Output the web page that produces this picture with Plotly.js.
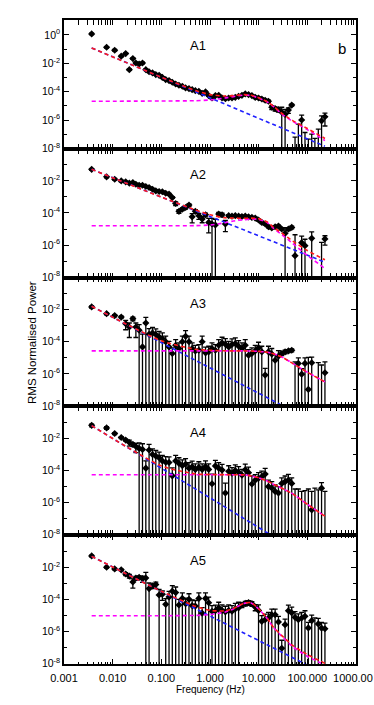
<!DOCTYPE html>
<html>
<head>
<meta charset="utf-8">
<script src="https://cdn.plot.ly/plotly-3.0.1.min.js"></script>
<style>
  html, body { margin: 0; padding: 0; background: #fff; }
  #chart { width: 374px; height: 705px; }
</style>
</head>
<body>
<div id="chart"></div>
<script>
// Frequencies of the binned power spectra (Hz), shared by the five panels
const freqHz = [0.0037, 0.0075, 0.011, 0.015, 0.0185, 0.022, 0.026, 0.030, 0.035, 0.041,
  0.048, 0.056, 0.066, 0.077, 0.090, 0.105, 0.123, 0.144, 0.168, 0.197,
  0.23, 0.27, 0.315, 0.37, 0.43, 0.50, 0.59, 0.69, 0.81, 0.94,
  1.10, 1.29, 1.51, 1.77, 2.07, 2.42, 2.83, 3.31, 3.87, 4.53,
  5.30, 6.20, 7.26, 8.50, 9.94, 11.6, 13.6, 15.9, 18.6, 21.8,
  25.5, 29.8, 34.9, 40.8, 47.8, 55.9, 65.4, 76.5, 89.5, 105,
  123, 143, 168, 196, 230];

// log10 of the RMS normalised power in each panel (-9 = below the axis)
const a1LogPow = [0.07, -0.87, -1.08, -1.5, -1.32, -2.45, -1.67, -1.98, -2.05, -1.98,
  -2.45, -2.6, -2.68, -2.8, -2.85, -3.0, -3.15, -3.22, -3.34, -3.46,
  -3.55, -3.62, -3.74, -3.79, -3.86, -3.93, -3.98, -4.12, -4.02, -4.28,
  -4.45, -4.28, -4.26, -4.45, -4.5, -4.45, -4.45, -4.4, -4.33, -4.26,
  -4.16, -4.21, -4.28, -4.4, -4.45, -4.52, -4.61, -4.68, -5.1, -5.2,
  -5.27, -5.45, -5.6, -5.3, -4.95, -9, -9, -6.0, -9, -9,
  -9, -9, -9, -6.06, -5.77];
const a2LogPow = [-1.28, -1.75, -1.9, -2.0, -2.06, -2.14, -2.1, -2.21, -2.27, -2.27,
  -2.35, -2.41, -2.52, -2.62, -2.66, -2.68, -2.77, -2.83, -3.04, -3.41,
  -3.9, -3.76, -3.66, -3.51, -4.24, -3.9, -4.17, -4.38, -4.11, -4.59,
  -4.69, -4.75, -4.07, -4.11, -4.69, -4.17, -4.2, -4.17, -4.2, -4.22,
  -4.2, -4.24, -4.28, -4.32, -4.44, -4.59, -4.69, -4.86, -4.94, -4.86,
  -4.82, -5.0, -5.27, -5.0, -4.9, -6.66, -9, -5.85, -6.04, -9,
  -5.58, -9, -9, -9, -5.62];
const a3LogPow = [-1.83, -2.25, -2.37, -2.46, -2.87, -3.08, -2.56, -3.08, -3.28, -4.32,
  -2.83, -3.53, -3.45, -3.55, -3.7, -3.8, -4.0, -4.32, -4.73, -4.22,
  -4.42, -4.0, -3.66, -4.0, -4.42, -4.57, -4.53, -4.0, -4.69, -4.63,
  -4.42, -4.53, -4.22, -4.07, -4.15, -4.32, -4.17, -4.11, -4.28, -4.42,
  -4.22, -4.84, -4.73, -4.57, -4.38, -4.63, -6.08, -4.63, -4.77, -5.15,
  -4.9, -4.73, -4.63, -4.57, -4.53, -9, -5.35, -6.02, -5.35, -6.97,
  -5.31, -9, -9, -9, -5.93];
const a4LogPow = [-1.18, -1.34, -1.69, -1.94, -2.1, -2.25, -2.37, -2.5, -2.62, -2.68,
  -3.85, -2.72, -3.0, -3.1, -3.2, -3.4, -3.48, -3.5, -4.33, -3.4,
  -3.55, -3.69, -3.6, -3.85, -3.76, -3.93, -3.8, -3.93, -3.75, -3.93,
  -4.82, -3.71, -3.85, -3.97, -5.4, -4.05, -4.17, -4.0, -4.1, -4.28,
  -3.95, -4.13, -4.84, -4.6, -4.48, -4.38, -4.22, -5.0, -5.09, -5.3,
  -5.4, -4.8, -4.69, -4.59, -4.8, -9, -9, -9, -9, -9,
  -6.45, -9, -9, -5.1, -9];
const a5LogPow = [-1.29, -2.0, -2.1, -2.16, -2.42, -2.55, -2.92, -2.67, -2.63, -2.71,
  -2.67, -3.33, -3.16, -3.08, -3.73, -3.68, -4.31, -3.85, -3.49, -3.58,
  -4.35, -3.94, -4.27, -4.0, -4.39, -4.42, -3.94, -4.86, -3.94, -4.21,
  -4.74, -4.71, -4.53, -4.69, -4.78, -4.69, -4.74, -4.6, -4.53, -4.35,
  -4.25, -4.2, -4.27, -4.48, -4.69, -5.37, -5.27, -5.16, -4.96, -4.96,
  -5.41, -7.05, -5.58, -4.71, -4.84, -5.12, -5.26, -5.16, -5.06, -5.78,
  -5.33, -9, -5.53, -5.79, -5.83];

// Height of the upper error cap above each point, in decades
const a1ErrDex = [0.05, 0.05, 0.05, 0.05, 0.05, 0.05, 0.05, 0.05, 0.05, 0.05,
  0.05, 0.05, 0.05, 0.05, 0.05, 0.05, 0.05, 0.05, 0.05, 0.05,
  0.05, 0.05, 0.05, 0.05, 0.05, 0.05, 0.05, 0.05, 0.05, 0.05,
  0.05, 0.05, 0.05, 0.05, 0.05, 0.05, 0.05, 0.05, 0.05, 0.05,
  0.05, 0.05, 0.05, 0.08, 0.08, 0.08, 0.08, 0.08, 0.12, 0.12,
  0.12, 0.35, 0.35, 0.15, 0.06, 1.8, 2.71, 0.35, 2.12, 1.65,
  2.0, 1.7, 2.36, 0.35, 0.25];
const a2ErrDex = [0.05, 0.05, 0.05, 0.05, 0.05, 0.05, 0.05, 0.05, 0.05, 0.05,
  0.05, 0.05, 0.05, 0.05, 0.05, 0.05, 0.05, 0.05, 0.05, 0.1,
  0.1, 0.08, 0.08, 0.08, 0.2, 0.1, 0.15, 0.15, 0.1, 0.25,
  0.35, 0.35, 0.1, 0.1, 0.22, 0.06, 0.06, 0.06, 0.06, 0.06,
  0.06, 0.06, 0.06, 0.06, 0.06, 0.06, 0.06, 0.06, 0.06, 0.06,
  0.06, 0.06, 0.35, 0.08, 0.08, 1.3, 0, 0.4, 0.4, 0,
  0.4, 0, 0, 3.17, 0.2];
const a3ErrDex = [0.06, 0.06, 0.06, 0.06, 0.2, 0.25, 0.1, 0.25, 0.35, 0.8,
  0.35, 0.35, 0.35, 0.35, 0.35, 0.35, 0.35, 0.35, 0.35, 0.35,
  0.35, 0.35, 0.35, 0.35, 0.35, 0.35, 0.35, 0.35, 0.35, 0.35,
  0.35, 0.35, 0.35, 0.35, 0.35, 0.35, 0.35, 0.35, 0.35, 0.35,
  0.35, 0.35, 0.35, 0.35, 0.35, 0.35, 0.42, 0.35, 0.35, 0.35,
  0.35, 0.1, 0.1, 0.08, 0.08, 3.75, 0.35, 0.35, 0.35, 2.0,
  0.35, 0, 3.7, 3.55, 0.68];
const a4ErrDex = [0.08, 0.08, 0.06, 0.06, 0.06, 0.15, 0.1, 0.2, 0.35, 0.35,
  0.45, 0.35, 0.35, 0.35, 0.35, 0.35, 0.35, 0.35, 0.5, 0.35,
  0.35, 0.35, 0.35, 0.35, 0.35, 0.35, 0.35, 0.35, 0.35, 0.35,
  0.6, 0.35, 0.35, 0.35, 0.62, 0.35, 0.35, 0.35, 0.35, 0.35,
  0.35, 0.35, 0.5, 0.35, 0.35, 0.35, 0.35, 0.4, 0.4, 0.4,
  0.4, 0.35, 0.35, 0.35, 0.35, 3.85, 3.85, 3.7, 3.75, 3.85,
  1.15, 3.9, 3.8, 0.35, 3.7];
const a5ErrDex = [0.05, 0.05, 0.05, 0.05, 0.08, 0.1, 0.2, 0.1, 0.1, 0.15,
  0.35, 0.35, 0.12, 0.15, 0.35, 0.2, 0.35, 0.35, 0.35, 0.35,
  0.35, 0.35, 0.35, 0.35, 0.35, 0.35, 0.35, 0.35, 0.35, 0.35,
  0.35, 0.35, 0.35, 0.35, 0.35, 0.35, 0.35, 0.35, 0.35, 0.12,
  0.12, 0.12, 0.12, 0.15, 0.35, 0.35, 0.35, 0.35, 0.35, 0.35,
  0.35, 0.5, 0.35, 0.35, 0.35, 0.35, 0.35, 0.35, 0.35, 0.35,
  0.35, 3.84, 0.35, 0.35, 0.35];

// Fitted model components, log10 power
const modelHz = [0.0037, 0.1, 0.5, 1, 2, 3, 5, 7, 10, 15, 20, 30, 50, 100, 230];
const a1Lor = [-4.68, -4.66, -4.64, -4.59, -4.45, -4.35, -4.24, -4.28, -4.45, -4.73, -5.04, -5.58, -6.1, -6.68, -7.45];
const a1Total = [-0.92, -2.98, -3.92, -4.21, -4.31, -4.28, -4.21, -4.26, -4.43, -4.71, -5.02, -5.54, -6.04, -6.6, -7.3];
const a2Lor = [-4.8, -4.8, -4.79, -4.75, -4.62, -4.5, -4.42, -4.38, -4.4, -4.6, -4.95, -5.35, -5.9, -6.65, -7.46];
const a2Total = [-1.28, -3.01, -3.81, -4.11, -4.3, -4.32, -4.33, -4.32, -4.36, -4.56, -4.89, -5.26, -5.75, -6.34, -6.92];
const a3Lor = [-4.57, -4.57, -4.57, -4.57, -4.57, -4.57, -4.57, -4.58, -4.6, -4.65, -4.75, -4.95, -5.35, -5.9, -6.5];
const a3Total = [-1.79, -3.94, -4.47, -4.53, -4.56, -4.57, -4.57, -4.58, -4.6, -4.65, -4.75, -4.95, -5.35, -5.9, -6.5];
const a4Lor = [-4.26, -4.26, -4.26, -4.26, -4.26, -4.26, -4.27, -4.33, -4.45, -4.65, -4.85, -5.1, -5.45, -6.1, -6.85];
const a4Total = [-1.2, -3.71, -4.21, -4.245, -4.255, -4.26, -4.27, -4.33, -4.45, -4.65, -4.85, -5.1, -5.45, -6.1, -6.85];
const a5Lor = [-5.02, -5.02, -5.0, -4.95, -4.8, -4.6, -4.25, -4.22, -4.6, -5.2, -5.75, -6.3, -6.95, -7.55, -8.1];
const a5Total = [-1.32, -3.5, -4.43, -4.69, -4.72, -4.57, -4.24, -4.21, -4.59, -5.19, -5.73, -6.26, -6.87, -7.44, -7.99];

// Power-law component: end points only (it is a straight line)
const powerLawHz = [0.0037, 230];
const a1PowerLaw = [-0.92, -7.85];
const a2PowerLaw = [-1.28, -7.07];
const a3PowerLaw = [-1.79, -9.36];
const a4PowerLaw = [-1.2, -10.07];
const a5PowerLaw = [-1.32, -8.65];

const panelNames = ["A1", "A2", "A3", "A4", "A5"];
const xTickVals = [0.001, 0.01, 0.1, 1, 10, 100, 1000];
// the last label sits against the right edge, as in the original figure
const xTickText = ["0.001", "0.010", "0.100", "1.000", "10.000", "100.000", "1000.00\u00a0\u00a0"];

const panels = [
  { pow: a1LogPow, err: a1ErrDex, lor: a1Lor, total: a1Total, pl: a1PowerLaw },
  { pow: a2LogPow, err: a2ErrDex, lor: a2Lor, total: a2Total, pl: a2PowerLaw },
  { pow: a3LogPow, err: a3ErrDex, lor: a3Lor, total: a3Total, pl: a3PowerLaw },
  { pow: a4LogPow, err: a4ErrDex, lor: a4Lor, total: a4Total, pl: a4PowerLaw },
  { pow: a5LogPow, err: a5ErrDex, lor: a5Lor, total: a5Total, pl: a5PowerLaw },
];

const toLin = (arr) => arr.map((v) => Math.pow(10, v));
const errSize = (logP, dex) =>
  logP.map((v, i) => Math.pow(10, v + dex[i]) - Math.pow(10, v));

const dashLine = (color) => ({ color: color, width: 1.6, dash: "4px,3px" });

const traces = [];
const layout = {
  width: 374,
  height: 705,
  margin: { l: 64, r: 18, t: 20, b: 41 },
  paper_bgcolor: "white",
  plot_bgcolor: "white",
  showlegend: false,
  font: { family: "Liberation Sans, Arial, sans-serif", color: "black" },
  annotations: [],
};

// minor ticks: 2..9 in every decade
const xMinor = [];
for (let e = -3; e < 3; e++) {
  for (let d = 2; d <= 9; d++) xMinor.push(d * Math.pow(10, e));
}

layout.xaxis = {
  type: "log",
  range: [-3, 3],
  anchor: "y5",
  tickmode: "array",
  tickvals: xTickVals,
  ticktext: xTickText,
  ticks: "inside",
  ticklen: 5,
  tickwidth: 1,
  tickcolor: "black",
  showline: true,
  linecolor: "black",
  linewidth: 1.6,
  mirror: "allticks",
  showgrid: false,
  zeroline: false,
  tickfont: { size: 11 },
  ticklabelstandoff: 3,
  ticklabeloverflow: "allow",
  minor: { tickmode: "array", tickvals: xMinor, ticks: "inside", ticklen: 2.5, tickcolor: "black", showgrid: false },
};

panels.forEach((p, i) => {
  const k = i + 1;
  const yRef = k === 1 ? "y" : "y" + k;
  const yKey = k === 1 ? "yaxis" : "yaxis" + k;

  // data points with error bars
  traces.push({
    x: freqHz,
    y: toLin(p.pow),
    xaxis: "x",
    yaxis: yRef,
    type: "scatter",
    mode: "markers",
    marker: { symbol: "diamond", size: 5.5, color: "black" },
    error_y: { type: "data", array: errSize(p.pow, p.err), color: "black", thickness: 1.3, width: 2.5 },
  });
  // power-law component
  traces.push({
    x: powerLawHz, y: toLin(p.pl), xaxis: "x", yaxis: yRef,
    type: "scatter", mode: "lines", line: dashLine("#1f1fff"),
  });
  // Lorentzian component
  traces.push({
    x: modelHz, y: toLin(p.lor), xaxis: "x", yaxis: yRef,
    type: "scatter", mode: "lines", line: Object.assign(dashLine("#ff00ff"), { shape: "spline", smoothing: 0.6 }),
  });
  // total model
  traces.push({
    x: modelHz, y: toLin(p.total), xaxis: "x", yaxis: yRef,
    type: "scatter", mode: "lines", line: Object.assign(dashLine("#ff1a1a"), { shape: "spline", smoothing: 0.6 }),
  });

  const top = k === 1 ? 1.05 : 0;
  const tickVals = k === 1 ? [1e-8, 1e-6, 1e-4, 1e-2, 1] : [1e-8, 1e-6, 1e-4, 1e-2];
  layout[yKey] = {
    type: "log",
    domain: [1 - k * 0.2, 1 - (k - 1) * 0.2],
    range: [-8.03, top],
    anchor: "x",
    tickmode: "array",
    tickvals: tickVals,
    ticktext: tickVals.map((v) => "10<sup>" + Math.round(Math.log10(v)) + "</sup>"),
    ticks: "inside",
    ticklen: 5,
    tickwidth: 1,
    tickcolor: "black",
    showline: true,
    linecolor: "black",
    linewidth: 1.6,
    mirror: "ticks",
    showgrid: false,
    zeroline: false,
    tickfont: { size: 10.5 },
    minor: { tickmode: "array", tickvals: [1e-7, 1e-5, 1e-3, 1e-1], ticks: "inside", ticklen: 3, tickcolor: "black", showgrid: false },
  };

  layout.annotations.push({
    text: panelNames[i],
    xref: "paper", yref: yRef + " domain",
    x: 0.459, y: 0.8, xanchor: "center", yanchor: "middle",
    showarrow: false, font: { size: 13 },
  });
});

layout.annotations.push(
  {
    text: "b", xref: "paper", yref: "y domain", x: 0.952, y: 0.78,
    xanchor: "center", yanchor: "middle", showarrow: false, font: { size: 15 },
  },
  {
    text: "RMS Normalised Power", xref: "paper", yref: "paper", x: -0.1096, y: 0.5,
    xanchor: "center", yanchor: "middle", textangle: -90, showarrow: false, font: { size: 11.5 },
  },
  {
    text: "Frequency (Hz)", xref: "paper", yref: "paper", x: 0.5, y: -0.039,
    xanchor: "center", yanchor: "middle", showarrow: false, font: { size: 10 },
  }
);

Plotly.newPlot("chart", traces, layout, { displayModeBar: false });
</script>
</body>
</html>
